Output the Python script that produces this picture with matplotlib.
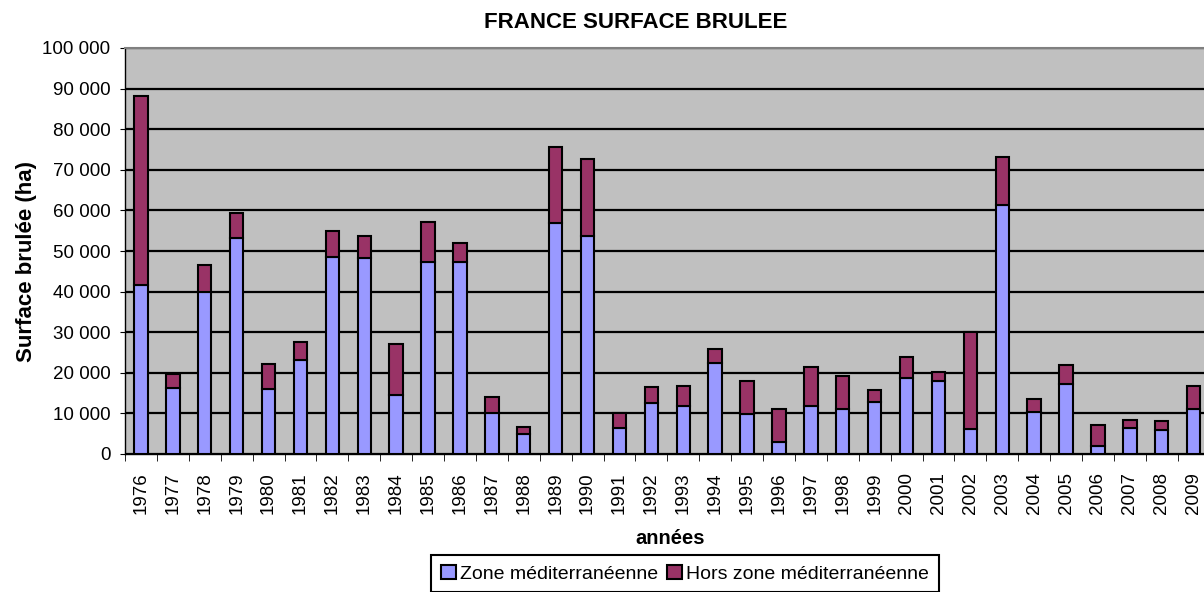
import matplotlib
matplotlib.use("Agg")
import matplotlib.pyplot as plt
import numpy as np

plt.rcParams['font.family'] = ['Liberation Sans', 'DejaVu Sans']

annees = [str(a) for a in range(1976, 2010)]
zone_med = [41600, 16200, 39800, 53100, 16000, 23100, 48400, 48200, 14500, 47400,
            47200, 10200, 4900, 56800, 53700, 6300, 12600, 11700, 22500, 9800,
            2900, 11900, 11100, 12700, 18800, 18000, 6200, 61300, 10400, 17200,
            2000, 6500, 5900, 11100]
hors_med = [46700, 3500, 6700, 6300, 6200, 4600, 6600, 5400, 12600, 9800,
            4700, 3800, 1700, 18700, 18900, 3700, 3800, 5000, 3300, 8300,
            8300, 9600, 8100, 3100, 5200, 2300, 23800, 11800, 3100, 4700,
            5100, 1900, 2200, 5700]

W, H = 1204, 592
fig = plt.figure(figsize=(W / 100, H / 100), dpi=100)
ax = fig.add_axes([125 / W, (H - 454) / H, 34 * 31.9 / W, (454 - 48) / H])
ax.set_facecolor('#C0C0C0')

x = np.arange(len(annees))
ax.bar(x, zone_med, width=0.42, color='#9999FF', edgecolor='black', linewidth=1.5,
       label='Zone méditerranéenne', zorder=3)
ax.bar(x, hors_med, width=0.42, bottom=zone_med, color='#993366', edgecolor='black',
       linewidth=1.5, label='Hors zone méditerranéenne', zorder=3)

ax.set_xlim(-0.5, len(annees) - 0.5)
ax.set_ylim(0, 100000)
yt = np.arange(0, 100001, 10000)
ax.set_yticks(yt)
ax.set_yticklabels([f"{v:,}".replace(',', ' ') for v in yt], fontsize=13.5)
ax.yaxis.grid(True, color='black', linewidth=1.6, zorder=1)
ax.set_axisbelow(True)

ax.set_xticks(x)
ax.set_xticklabels(annees, rotation=90, fontsize=13.5)
ax.tick_params(axis='x', length=0, pad=13)
ax.set_xticks(np.arange(-0.5, len(annees)), minor=True)
ax.tick_params(axis='x', which='minor', length=5, color='black')
ax.tick_params(axis='y', length=3.6, pad=7)

for s in ['top', 'right']:
    ax.spines[s].set_color('#808080')
    ax.spines[s].set_linewidth(1.5)
for s in ['left', 'bottom']:
    ax.spines[s].set_color('black')
    ax.spines[s].set_linewidth(1.0)

fig.text(636 / W, 1 - 23 / H, 'FRANCE SURFACE BRULEE', ha='center', va='center',
         fontsize=16, fontweight='bold')
fig.text(27 / W, 1 - 262 / H, 'Surface brulée (ha)', ha='center', va='center',
         rotation=90, fontsize=16, fontweight='bold')
fig.text(670 / W, 1 - 538 / H, 'années', ha='center', va='center',
         fontsize=14.5, fontweight='bold')

leg = fig.legend(loc='upper center', bbox_to_anchor=(685 / W, 1 - 555 / H), ncol=2,
                 fontsize=14, frameon=True, fancybox=False, edgecolor='black',
                 framealpha=1, handlelength=0.75, handleheight=0.75, handletextpad=0.2,
                 columnspacing=0.5, borderpad=0.5, borderaxespad=0)
leg.get_frame().set_linewidth(1.5)

fig.savefig('out.png', dpi=100)
